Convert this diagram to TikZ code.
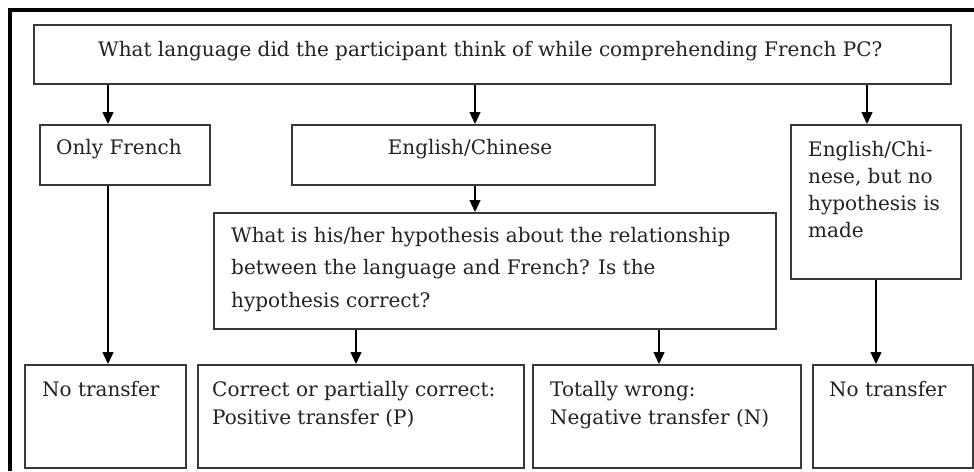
\documentclass[tikz,border=0pt]{standalone}
\usepackage{fontspec}
\setmainfont{DejaVu Serif}
\usetikzlibrary{arrows.meta}
\definecolor{boxline}{HTML}{383838}
\definecolor{txt}{HTML}{222222}
\begin{document}
\begin{tikzpicture}[x=1pt,y=-1pt,
  box/.style={draw=boxline,line width=1.7pt,inner sep=0pt},
  lbl/.style={inner sep=0pt,text=txt,font=\fontsize{20}{27}\selectfont,align=left,anchor=base west},
  arr/.style={draw=black,line width=1.3pt,-{Triangle[length=12pt,width=11pt]}}]
\useasboundingbox (0,0) rectangle (974,471);
\fill[white] (0,0) rectangle (974,471);
% outer frame (top and left)
\draw[line width=4pt] (10,471) -- (10,10) -- (974,10);
% boxes
\node[box,minimum width=917pt,minimum height=59pt,anchor=north west] (top) at (33,24) {};
\node[box,minimum width=170pt,minimum height=60pt,anchor=north west] (only) at (39,124) {};
\node[box,minimum width=363pt,minimum height=60pt,anchor=north west] (eng) at (291,124) {};
\node[box,minimum width=562pt,minimum height=116pt,anchor=north west] (hyp) at (213,212) {};
\node[box,minimum width=170pt,minimum height=154pt,anchor=north west] (noh) at (790,124) {};
\node[box,minimum width=161pt,minimum height=103pt,anchor=north west] (b1) at (24,364) {};
\node[box,minimum width=326pt,minimum height=103pt,anchor=north west] (b2) at (197,364) {};
\node[box,minimum width=268pt,minimum height=103pt,anchor=north west] (b3) at (532,364) {};
\node[box,minimum width=160pt,minimum height=103pt,anchor=north west] (b4) at (812,364) {};
% texts (base anchor = baseline of the last line)
\node[lbl] (ttop) at (98,56) {What language did the participant think of while comprehending French PC?};
\node[lbl] (tonly) at (56,154) {Only French};
\node[lbl,anchor=base] (teng) at (470,154) {English/Chinese};
\node[lbl,font=\fontsize{20}{32.5}\selectfont] (thyp) at (231,307) {What is his/her hypothesis about the relationship\\between the language and French? Is the\\hypothesis correct?};
\node[lbl] (tnoh) at (808,237) {English/Chi-\\nese, but no\\hypothesis is\\made};
\node[lbl] (tb1) at (42,396) {No transfer};
\node[lbl,font=\fontsize{20}{28}\selectfont] (tb2) at (212,424) {Correct or partially correct:\\Positive transfer (P)};
\node[lbl,font=\fontsize{20}{28}\selectfont] (tb3) at (550,424) {Totally wrong:\\Negative transfer (N)};
\node[lbl] (tb4) at (829,396) {No transfer};
% arrow x positions
\coordinate (xa) at (108,0);
\coordinate (xb) at (475,0);
\coordinate (xc) at (867,0);
\coordinate (xd) at (356,0);
\coordinate (xe) at (659,0);
\coordinate (xf) at (876,0);
% connectors
\draw[arr] (top.south -| xa) -- (only.north -| xa);
\draw[arr] (top.south -| xb) -- (eng.north -| xb);
\draw[arr] (top.south -| xc) -- (noh.north -| xc);
\draw[arr] (eng.south -| xb) -- (hyp.north -| xb);
\draw[arr] (only.south -| xa) -- (b1.north -| xa);
\draw[arr] (hyp.south -| xd) -- (b2.north -| xd);
\draw[arr] (hyp.south -| xe) -- (b3.north -| xe);
\draw[arr] (noh.south -| xf) -- (b4.north -| xf);
\end{tikzpicture}
\end{document}
